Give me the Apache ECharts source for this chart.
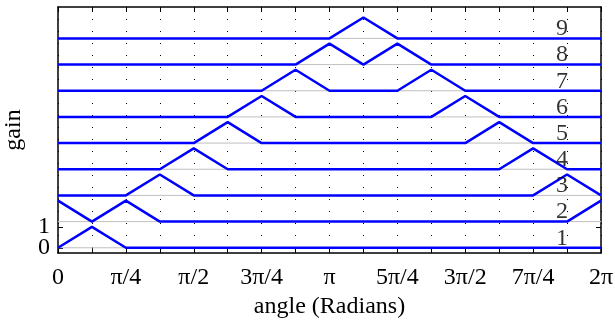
<!DOCTYPE html>
<html>
<head>
<meta charset="utf-8">
<script src="https://cdn.jsdelivr.net/npm/echarts@6/dist/echarts.min.js"></script>
<style>html,body{margin:0;padding:0;background:#fff}#c{width:615px;height:325px}</style>
</head>
<body>
<div id="c"></div>
<script>
// positions along x in units of pi/8 (0..16)
var positions = [0,1,2,3,4,5,6,7,8,9,10,11,12,13,14,15,16];
var xTickLabels = ['0','','\u03c0/4','','\u03c0/2','','3\u03c0/4','','\u03c0','','5\u03c0/4','','3\u03c0/2','','7\u03c0/4','','2\u03c0'];
var yTickValues = [0, 1];
var yTickLabels = ['0', '1'];
var channelNames = ['1','2','3','4','5','6','7','8','9'];
var offsets = [0, 1.25, 2.5, 3.75, 5, 6.25, 7.5, 8.75, 10];
var gain1 = [0,1,0,0,0,0,0,0,0,0,0,0,0,0,0,0,0];
var gain2 = [1,0,1,0,0,0,0,0,0,0,0,0,0,0,0,0,1];
var gain3 = [0,0,0,1,0,0,0,0,0,0,0,0,0,0,0,1,0];
var gain4 = [0,0,0,0,1,0,0,0,0,0,0,0,0,0,1,0,0];
var gain5 = [0,0,0,0,0,1,0,0,0,0,0,0,0,1,0,0,0];
var gain6 = [0,0,0,0,0,0,1,0,0,0,0,0,1,0,0,0,0];
var gain7 = [0,0,0,0,0,0,0,1,0,0,0,1,0,0,0,0,0];
var gain8 = [0,0,0,0,0,0,0,0,1,0,1,0,0,0,0,0,0];
var gain9 = [0,0,0,0,0,0,0,0,0,1,0,0,0,0,0,0,0];
var gains = [gain1,gain2,gain3,gain4,gain5,gain6,gain7,gain8,gain9];

var STEP = Math.PI / 8;
var FONT = '"Liberation Serif", "Times New Roman", serif';
var labelX = 14.85 * STEP;
var labelLift = 0.45;

var series = [];
// gray baseline reference lines
offsets.forEach(function (o) {
  series.push({
    type: 'line', silent: true, symbol: 'none', z: 1,
    lineStyle: {color: '#c0c0c0', width: 1},
    data: [[positions[0] * STEP, o], [positions[positions.length - 1] * STEP, o]]
  });
});
gains.forEach(function (g, i) {
  series.push({
    type: 'line', symbol: 'none', z: 3,
    lineStyle: {color: '#0000ff', width: 2.5},
    data: g.map(function (v, j) { return [positions[j] * STEP, offsets[i] + v]; })
  });
});
series.push({
  type: 'scatter', symbolSize: 0, z: 4,
  label: {show: true, position: 'inside', color: '#000', fontFamily: FONT, fontSize: 24,
    formatter: function (p) { return p.data[2]; }},
  data: channelNames.map(function (n, i) { return [labelX, offsets[i] + labelLift, n]; })
});

function xfmt(v) {
  var k = Math.round(v / STEP);
  return xTickLabels[k] || '';
}
function yfmt(v) {
  for (var i = 0; i < yTickValues.length; i++) {
    if (Math.abs(v - yTickValues[i]) < 1e-6) return yTickLabels[i];
  }
  return '';
}

var axisLine = {show: true, onZero: false, lineStyle: {color: '#000', width: 1.5}};
var chart = echarts.init(document.getElementById('c'), null, {renderer: 'canvas'});
chart.setOption({
  animation: false,
  backgroundColor: '#fff',
  grid: {left: 58, right: 14, top: 7, bottom: 72, containLabel: false, outerBoundsMode: 'none'},
  xAxis: [{
    type: 'value', min: 0, max: 16 * STEP, interval: STEP, position: 'bottom',
    name: 'angle (Radians)', nameLocation: 'middle', nameGap: 38,
    nameTextStyle: {fontFamily: FONT, fontSize: 24, color: '#000'},
    axisLine: axisLine,
    axisTick: {show: true, inside: true, length: 5, lineStyle: {color: '#000', width: 1}},
    axisLabel: {formatter: xfmt, fontFamily: FONT, fontSize: 24, color: '#000', margin: 13,
      showMinLabel: true, showMaxLabel: true, hideOverlap: false},
    splitLine: {show: true, lineStyle: {color: '#000', width: 1, type: [1, 11]}}
  }, {
    type: 'value', min: 0, max: 16 * STEP, interval: STEP, position: 'top',
    axisLine: axisLine,
    axisTick: {show: true, inside: true, length: 5, lineStyle: {color: '#000', width: 1}},
    axisLabel: {show: false}, splitLine: {show: false}
  }],
  yAxis: [{
    type: 'value', min: -0.25, max: 11.5, interval: 0.25, position: 'left',
    name: 'gain', nameLocation: 'middle', nameGap: 32,
    nameTextStyle: {fontFamily: FONT, fontSize: 24, color: '#000'},
    axisLine: axisLine,
    axisTick: {show: true, inside: true, length: 5, customValues: yTickValues, lineStyle: {color: '#000', width: 1}},
    axisLabel: {fontFamily: FONT, fontSize: 24, lineHeight: 12, color: '#000', margin: 8,
      showMinLabel: true, showMaxLabel: true, hideOverlap: false, formatter: yfmt},
    splitLine: {show: false}
  }, {
    type: 'value', min: -0.25, max: 11.5, interval: 0.25, position: 'right',
    axisLine: axisLine,
    axisTick: {show: true, inside: true, length: 5, customValues: yTickValues, lineStyle: {color: '#000', width: 1}},
    axisLabel: {show: false}, splitLine: {show: false}
  }],
  series: series
});
</script>
</body>
</html>
